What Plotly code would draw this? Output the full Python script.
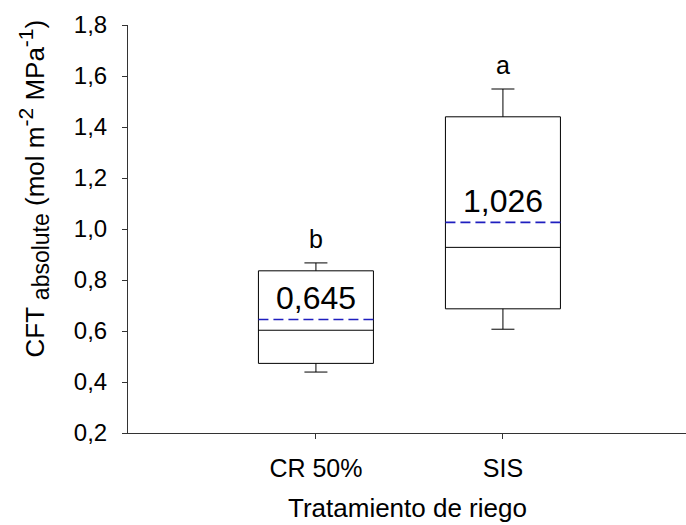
import plotly.graph_objects as go

categories = ["CR 50%", "SIS"]
lower_whisker = [0.439, 0.607]
q1 = [0.473, 0.687]
median = [0.603, 0.928]
q3 = [0.836, 1.440]
upper_whisker = [0.867, 1.549]
means = [0.645, 1.026]
mean_labels = ["0,645", "1,026"]
letters = ["b", "a"]
y_ticks = [0.2, 0.4, 0.6, 0.8, 1.0, 1.2, 1.4, 1.6, 1.8]
y_ticktext = ["0,2", "0,4", "0,6", "0,8", "1,0", "1,2", "1,4", "1,6", "1,8"]

FONT = "Liberation Sans, Arial, sans-serif"
pos = list(range(len(categories)))
BW = 0.615

fig = go.Figure()
for i, c in enumerate(categories):
    fig.add_trace(go.Box(
        x=[pos[i]], q1=[q1[i]], median=[median[i]], q3=[q3[i]],
        lowerfence=[lower_whisker[i]], upperfence=[upper_whisker[i]],
        width=BW, whiskerwidth=0.2, boxpoints=False,
        fillcolor="white", line=dict(color="black", width=1),
        name=c, showlegend=False, hoverinfo="skip"))
    fig.add_trace(go.Scatter(
        x=[pos[i] - BW / 2, pos[i] + BW / 2], y=[means[i], means[i]],
        mode="lines", line=dict(color="#1f1fbf", width=1.6, dash="10px,5px"),
        showlegend=False, hoverinfo="skip"))
    fig.add_annotation(x=pos[i], y=means[i] + 0.083, text=mean_labels[i],
                       showarrow=False, xanchor="center", yanchor="middle",
                       font=dict(family=FONT, size=32, color="black"))
    fig.add_annotation(x=pos[i], y=upper_whisker[i] + 0.095, text=letters[i],
                       showarrow=False, xanchor="center", yanchor="middle",
                       font=dict(family=FONT, size=25, color="black"))

fig.add_annotation(xref="paper", yref="paper", x=-0.168, y=0.60,
                   text=("CFT <sub><span style='font-size:23px'>absolute</span></sub> "
                         "(mol m<sup><span style='font-size:21px'>-2</span></sup> "
                         "MPa<sup><span style='font-size:21px'>-1</span></sup>)"),
                   textangle=-90, showarrow=False, xanchor="center", yanchor="middle",
                   font=dict(family=FONT, size=26, color="black"))
fig.add_annotation(xref="paper", yref="paper", x=0.5, y=-0.184,
                   text="Tratamiento de riego", showarrow=False,
                   xanchor="center", yanchor="middle",
                   font=dict(family=FONT, size=26, color="black"))

fig.update_layout(
    width=686, height=525,
    margin=dict(l=128, r=0, t=25, b=92),
    plot_bgcolor="white", paper_bgcolor="white",
    showlegend=False,
    font=dict(family=FONT, size=24, color="black"),
    xaxis=dict(range=[-1.005, 1.979], tickvals=pos, ticktext=categories,
               showgrid=False, zeroline=False, showline=True, linecolor="#333",
               linewidth=1, ticks="outside", ticklen=5, tickcolor="#333",
               ticklabelstandoff=8,
               tickfont=dict(family=FONT, size=25, color="black")),
    yaxis=dict(range=[0.2, 1.8], tickvals=y_ticks, ticktext=y_ticktext,
               showgrid=False, zeroline=False, showline=True, linecolor="#333",
               linewidth=1, ticks="outside", ticklen=5, tickcolor="#333",
               ticklabelstandoff=10,
               tickfont=dict(family=FONT, size=24, color="black")),
)

fig.write_html("out.html")
